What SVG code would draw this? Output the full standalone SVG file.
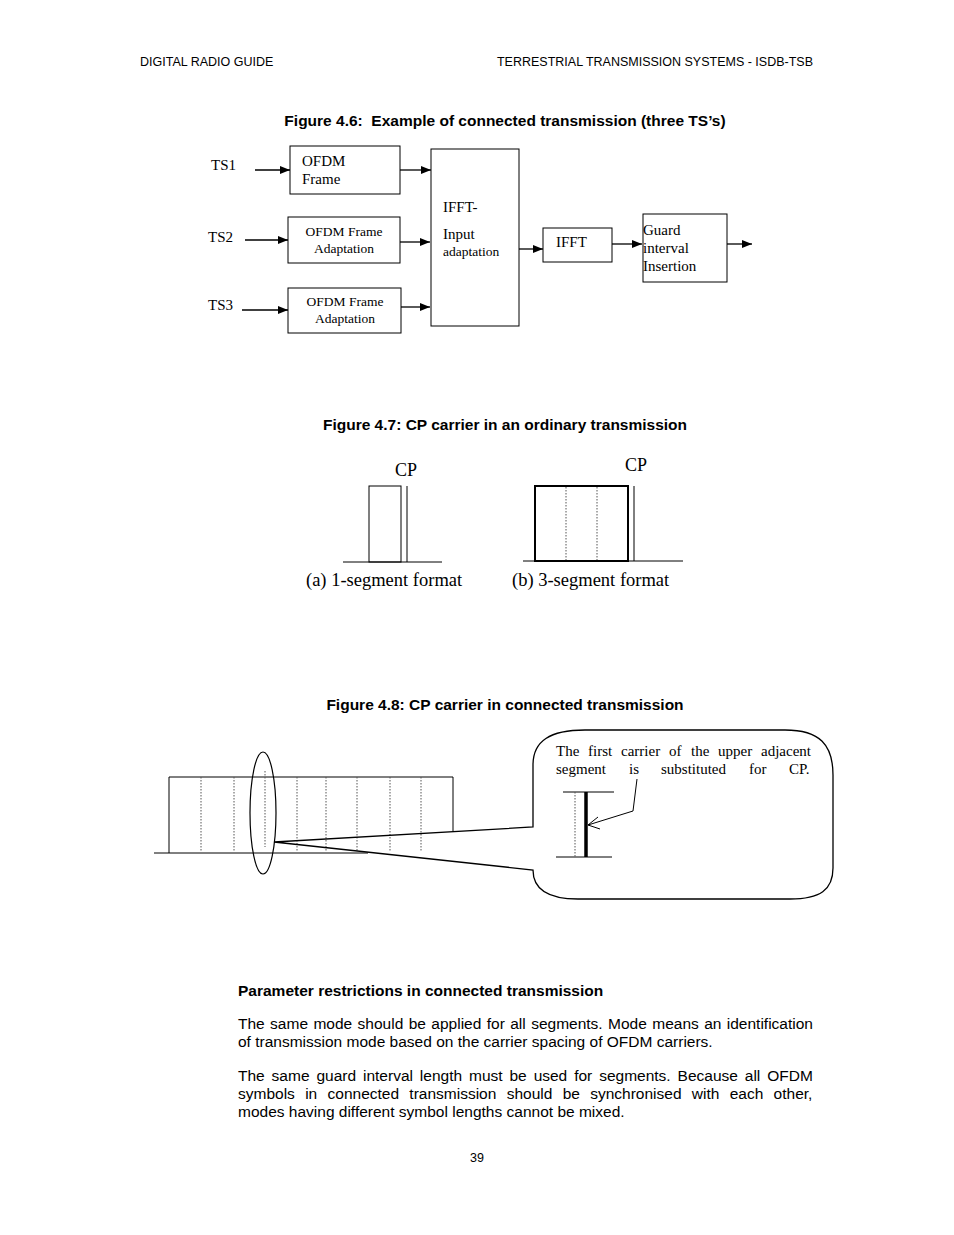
<svg xmlns="http://www.w3.org/2000/svg" width="954" height="1235" viewBox="0 0 954 1235">
<defs>
<marker id="ah" markerWidth="10" markerHeight="8" refX="10" refY="4" orient="auto" markerUnits="userSpaceOnUse">
<path d="M0,0 L10,4 L0,8 Z" fill="#000"/>
</marker>
</defs>
<style>
.hd{font-family:"Liberation Sans",Arial,sans-serif;font-size:12.5px;fill:#000}
.ttl{font-family:"Liberation Sans",Arial,sans-serif;font-size:15.5px;font-weight:bold;fill:#000}
.body{font-family:"Liberation Sans",Arial,sans-serif;font-size:15.5px;fill:#000}
.tm{font-family:"Liberation Serif","Times New Roman",serif;fill:#000}
.box{fill:#fff;stroke:#000;stroke-width:1}
.ln{stroke:#000;stroke-width:1;fill:none}
.arr{stroke:#000;stroke-width:1.3;fill:none;marker-end:url(#ah)}
.dot{stroke:#555;stroke-width:1;stroke-dasharray:1.5,1.5;fill:none}
</style>
<rect width="954" height="1235" fill="#fff"/>
<text class="hd" x="140" y="66">DIGITAL RADIO GUIDE</text>
<text class="hd" x="813" y="66" text-anchor="end">TERRESTRIAL TRANSMISSION SYSTEMS - ISDB-TSB</text>

<text class="ttl" x="505" y="126" text-anchor="middle">Figure 4.6:&#160; Example of connected transmission (three TS’s)</text>

<g id="ts1"><text class="tm" x="211" y="170" font-size="15">TS1</text></g>
<g id="ts2"><text class="tm" x="208" y="242" font-size="15">TS2</text></g>
<g id="ts3"><text class="tm" x="208" y="310" font-size="15">TS3</text></g>
<g id="ofdm1"><rect class="box" x="290" y="146" width="110" height="48"/>
<text class="tm" x="302" y="166" font-size="15">OFDM</text><text class="tm" x="302" y="184" font-size="15">Frame</text></g>
<g id="ofdm2"><rect class="box" x="288" y="217" width="112" height="46"/>
<text class="tm" x="344" y="236" font-size="13.5" text-anchor="middle">OFDM Frame</text><text class="tm" x="344" y="253" font-size="13.5" text-anchor="middle">Adaptation</text></g>
<g id="ofdm3"><rect class="box" x="288" y="288" width="113" height="45"/>
<text class="tm" x="345" y="306" font-size="13.5" text-anchor="middle">OFDM Frame</text><text class="tm" x="345" y="323" font-size="13.5" text-anchor="middle">Adaptation</text></g>
<g id="ifftin"><rect class="box" x="431" y="149" width="88" height="177"/>
<text class="tm" x="443" y="212" font-size="15">IFFT-</text><text class="tm" x="443" y="239" font-size="15">Input</text><text class="tm" x="443" y="256" font-size="13.5">adaptation</text></g>
<g id="ifft"><rect class="box" x="543" y="228" width="69" height="34"/>
<text class="tm" x="556" y="247" font-size="15">IFFT</text></g>
<g id="guard"><rect class="box" x="643" y="214" width="84" height="68"/>
<text class="tm" x="643" y="235" font-size="15">Guard</text><text class="tm" x="643" y="253" font-size="15">interval</text><text class="tm" x="643" y="271" font-size="15">Insertion</text></g>

<g id="connectors">
<line class="arr" x1="255" y1="170" x2="290" y2="170"/>
<line class="arr" x1="245" y1="240" x2="288" y2="240"/>
<line class="arr" x1="242" y1="310" x2="288" y2="310"/>
<line class="arr" x1="400" y1="170" x2="431" y2="170"/>
<line class="arr" x1="400" y1="242" x2="430" y2="242"/>
<line class="arr" x1="401" y1="307" x2="430" y2="307"/>
<line class="arr" x1="519" y1="249" x2="543" y2="249"/>
<line class="arr" x1="612" y1="244" x2="642" y2="244"/>
<line class="arr" x1="727" y1="244" x2="752" y2="244"/>
</g>

<text class="ttl" x="505" y="430" text-anchor="middle">Figure 4.7: CP carrier in an ordinary transmission</text>
<g id="fig47a">
<line class="ln" x1="343" y1="562" x2="442" y2="562"/>
<rect x="369" y="486" width="32" height="76" fill="none" stroke="#000" stroke-width="1"/>
<line class="ln" x1="407" y1="486" x2="407" y2="562"/>
<text class="tm" x="395" y="476" font-size="18">CP</text>
<text class="tm" x="306" y="586" font-size="18.5">(a) 1-segment format</text>
</g>
<g id="fig47b">
<line class="ln" x1="523" y1="561" x2="683" y2="561"/>
<rect x="535" y="486" width="93" height="75" fill="none" stroke="#000" stroke-width="2"/>
<line class="dot" x1="566" y1="487" x2="566" y2="560"/>
<line class="dot" x1="597" y1="487" x2="597" y2="560"/>
<line class="ln" x1="634" y1="486" x2="634" y2="561"/>
<text class="tm" x="625" y="471" font-size="18">CP</text>
<text class="tm" x="512" y="586" font-size="18.5">(b) 3-segment format</text>
</g>

<text class="ttl" x="505" y="710" text-anchor="middle">Figure 4.8: CP carrier in connected transmission</text>
<g id="fig48-spectrum">
<line class="ln" x1="154" y1="853" x2="368" y2="853"/>
<polyline class="ln" points="169,853 169,777 453,777 453,831"/>
<line class="dot" x1="201" y1="777" x2="201" y2="851"/>
<line class="dot" x1="234" y1="777" x2="234" y2="851"/>
<line class="dot" x1="265" y1="771" x2="265" y2="847"/>
<line class="dot" x1="297" y1="777" x2="297" y2="851"/>
<line class="dot" x1="326" y1="777" x2="326" y2="851"/>
<line class="dot" x1="357" y1="777" x2="357" y2="851"/>
<line class="dot" x1="390" y1="777" x2="390" y2="851"/>
<line class="dot" x1="421" y1="777" x2="421" y2="851"/>
<ellipse cx="263" cy="813" rx="13" ry="61" fill="none" stroke="#000" stroke-width="1.2"/>
</g>
<g id="callout">
<path d="M533,827 L533,765 C533,741 550,730 585,730 L785,730 C820,730 833,745 833,775 L833,868 C833,890 820,899 790,899 L578,899 C548,899 533,890 533,870 L274,842 Z" fill="none" stroke="#000" stroke-width="1.3"/>
<text class="tm" y="756" font-size="15"><tspan x="556">The</tspan><tspan x="588">first</tspan><tspan x="621">carrier</tspan><tspan x="669">of</tspan><tspan x="691">the</tspan><tspan x="718">upper</tspan><tspan x="761">adjacent</tspan></text>
<text class="tm" y="774" font-size="15"><tspan x="556">segment</tspan><tspan x="629">is</tspan><tspan x="661">substituted</tspan><tspan x="749">for</tspan><tspan x="789">CP.</tspan></text>
<line class="ln" x1="563" y1="792" x2="614" y2="792"/>
<line class="ln" x1="556" y1="857" x2="612" y2="857"/>
<line class="dot" x1="575" y1="792" x2="575" y2="857"/>
<line x1="586" y1="792" x2="586" y2="857" stroke="#000" stroke-width="3.5"/>
<polyline class="ln" points="637,779 633,811 588,825"/>
<polyline class="ln" points="598,817 588,825 600,829"/>
</g>

<text class="ttl" x="238" y="996">Parameter restrictions in connected transmission</text>
<text class="body" x="238" y="1029" word-spacing="1.1">The same mode should be applied for all segments. Mode means an identification</text>
<text class="body" x="238" y="1047">of transmission mode based on the carrier spacing of OFDM carriers.</text>
<text class="body" x="238" y="1081" word-spacing="2.6">The same guard interval length must be used for segments. Because all OFDM</text>
<text class="body" x="238" y="1099" word-spacing="6">symbols in connected transmission should be synchronised with each other,</text>
<text class="body" x="238" y="1117">modes having different symbol lengths cannot be mixed.</text>
<text class="hd" x="477" y="1162" text-anchor="middle">39</text>
</svg>
